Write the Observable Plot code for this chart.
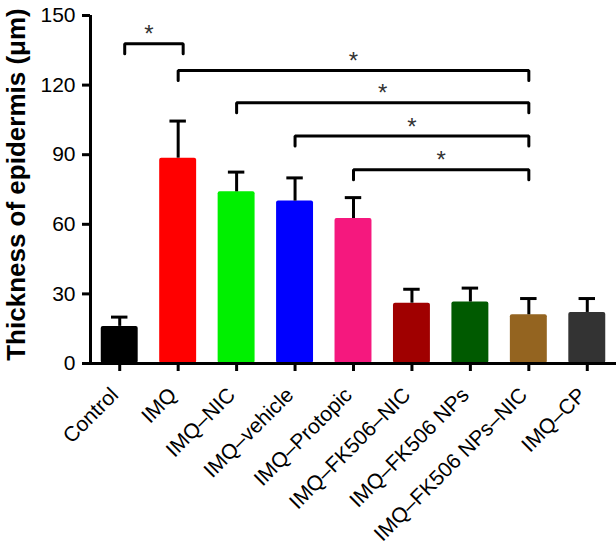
<!DOCTYPE html>
<html><head><meta charset="utf-8">
<script src="https://cdn.jsdelivr.net/npm/d3@7"></script>
<script src="https://cdn.jsdelivr.net/npm/@observablehq/plot@0.6"></script>
<style>body{margin:0;background:#fff;font-family:Arial,"Liberation Sans",sans-serif}</style>
</head><body><div id="chart"></div>
<script>
const categories = ["Control","IMQ","IMQ–NIC","IMQ–vehicle","IMQ–Protopic","IMQ–FK506–NIC","IMQ–FK506 NPs","IMQ–FK506 NPs–NIC","IMQ–CP"];
const means = [16, 88.5, 74, 70, 62.5, 26, 26.5, 21, 22];
const sds = [4, 16, 8.5, 10, 9, 6, 6, 7, 6];
const colors = ["#000000","#ff0000","#00f000","#0000ff","#f5187e","#a00000","#005a00","#946420","#333333"];
const yTicks = [0, 30, 60, 90, 120, 150];
const bracketFrom = ["Control","IMQ","IMQ–NIC","IMQ–vehicle","IMQ–Protopic"];
const bracketTo = ["IMQ","IMQ–FK506 NPs–NIC","IMQ–FK506 NPs–NIC","IMQ–FK506 NPs–NIC","IMQ–FK506 NPs–NIC"];
const bracketLevel = [137.8, 126.3, 112.4, 98.1, 83.5];
const bracketDrop = 4.3;
const bracketLabels = ["*","*","*","*","*"];
const yTitle = "Thickness of epidermis (μm)";

const data = categories.map((c, i) => ({name: c, i, mean: means[i], sd: sds[i], color: colors[i]}));
const brackets = bracketFrom.map((f, k) => ({
  k, a: categories.indexOf(f), b: categories.indexOf(bracketTo[k]), level: bracketLevel[k], label: bracketLabels[k]
}));
const bracketPts = brackets.flatMap(d => [
  {k: d.k, x: d.a, y: d.level - bracketDrop},
  {k: d.k, x: d.a, y: d.level},
  {k: d.k, x: d.b, y: d.level},
  {k: d.k, x: d.b, y: d.level - bracketDrop}
]);
const xIdx = d3.range(categories.length);

const chart = Plot.plot({
  width: 616, height: 547,
  marginLeft: 90, marginRight: 0, marginTop: 15, marginBottom: 184,
  style: {fontFamily: "Arial, 'Liberation Sans', sans-serif", background: "#fff", color: "#000"},
  x: {domain: [-0.5, 8.5]},
  y: {domain: [0, 150]},
  marks: [
    Plot.rectY(data, {x1: d => d.i - 0.5, x2: d => d.i + 0.5, y: "mean", fill: d => d.color, insetLeft: 10.75, insetRight: 10.75, rx: 2}),
    Plot.ruleX(data, {x: "i", y1: "mean", y2: d => d.mean + d.sd, strokeWidth: 3, stroke: "#000"}),
    Plot.ruleY(data, {x1: d => d.i - 0.5, x2: d => d.i + 0.5, y: d => d.mean + d.sd, insetLeft: 21, insetRight: 21, strokeWidth: 3, stroke: "#000"}),
    Plot.line(bracketPts.filter(d => d.k === 0), {x: "x", y: "y", z: "k", stroke: "#000", strokeWidth: 3, strokeLinejoin: "miter", dx: 5}),
    Plot.line(bracketPts.filter(d => d.k > 0), {x: "x", y: "y", z: "k", stroke: "#000", strokeWidth: 3, strokeLinejoin: "miter"}),
    Plot.text(brackets, {x: d => (d.a + d.b) / 2, y: "level", text: "label", fontSize: 24, fill: "#333", dy: -9}),
    Plot.ruleY([0], {strokeWidth: 3, stroke: "#000"}),
    Plot.ruleX([-0.5], {y1: 0, y2: 150, strokeWidth: 3, stroke: "#000"}),
    Plot.axisY({ticks: yTicks, tickSize: 8, tickPadding: 7, strokeWidth: 3, fontSize: 21, label: null}),
    Plot.axisX({ticks: xIdx, tickSize: 8, tickFormat: () => "", strokeWidth: 3, label: null}),
    Plot.axisX({ticks: xIdx, tickFormat: i => categories[i], tickRotate: -45, tickSize: 0, tickPadding: 28, fontSize: 21, dx: -5, label: null}),
    Plot.text([yTitle], {frameAnchor: "left", textAnchor: "middle", rotate: -90, dx: -74, dy: -5, fontWeight: "bold", fontSize: 26})
  ]
});
document.getElementById("chart").appendChild(chart);
</script>
</body></html>
